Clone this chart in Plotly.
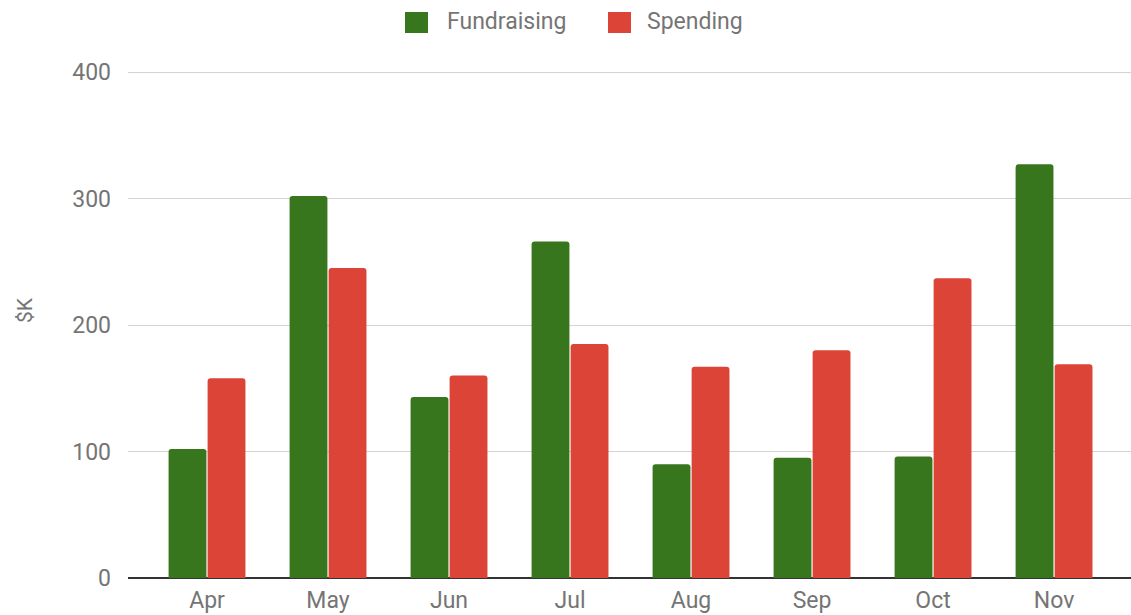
import plotly.graph_objects as go

months = ["Apr", "May", "Jun", "Jul", "Aug", "Sep", "Oct", "Nov"]
fundraising = [102, 302, 143, 266, 90, 95, 96, 327]
spending = [158, 245, 160, 185, 167, 180, 237, 169]
y_ticks = [0, 100, 200, 300, 400]
series_names = ["Fundraising", "Spending"]

GREEN = "#38761d"
RED = "#db4437"
GREY = "#757575"
FONT = "Roboto"
FS = 23

W, H = 1131, 615
ML, MR, MT, MB = 128, 0, 70, 37
PW, PH = W - ML - MR, H - MT - MB
Y_TOP = 400 * PH / 506.0  # so that 400 sits at pixel row 72 with the gridline visible


def px_x(px):
    return (px - ML) / PW


def px_y(py):
    return (H - MB - py) / PH


fig = go.Figure()
fig.add_trace(go.Bar(x=months, y=fundraising, name=series_names[0],
                     marker=dict(color=GREEN, line=dict(width=0)), showlegend=False))
fig.add_trace(go.Bar(x=months, y=spending, name=series_names[1],
                     marker=dict(color=RED, line=dict(width=0)), showlegend=False))

# custom legend (large square swatches like the reference)
legend_items = [(series_names[0], GREEN, 405, 445), (series_names[1], RED, 608, 645)]
shapes = []
annotations = []
for name, col, sx, tx in legend_items:
    shapes.append(dict(type="rect", xref="paper", yref="paper",
                       x0=px_x(sx), x1=px_x(sx + 23), y0=px_y(33), y1=px_y(12),
                       fillcolor=col, line=dict(width=0), layer="above"))
    annotations.append(dict(text=name, xref="paper", yref="paper", x=px_x(tx), y=px_y(22),
                            xanchor="left", yanchor="middle", showarrow=False,
                            font=dict(family=FONT, size=FS, color=GREY)))

annotations.append(dict(text="$K", xref="paper", yref="paper", x=px_x(25), y=px_y(310),
                        xanchor="center", yanchor="middle", textangle=-90, showarrow=False,
                        font=dict(family=FONT, size=FS - 2, color=GREY)))

fig.update_layout(
    width=W, height=H,
    margin=dict(l=ML, r=MR, t=MT, b=MB),
    paper_bgcolor="white", plot_bgcolor="white",
    barmode="group", bargap=0.355, bargroupgap=0.03,
    barcornerradius=3,
    font=dict(family=FONT, size=FS, color=GREY),
    showlegend=False,
    shapes=shapes, annotations=annotations,
    xaxis=dict(range=[-0.653, 7.636], showgrid=False, showline=False, ticks="",
               automargin=False, ticklabelstandoff=6,
               tickfont=dict(family=FONT, size=FS, color=GREY), zeroline=False),
    yaxis=dict(range=[0, Y_TOP], tickvals=y_ticks, showgrid=True, gridcolor="#d3d3d3",
               gridwidth=1, zeroline=True, zerolinecolor="#333333", zerolinewidth=1.5,
               ticks="", ticklabelstandoff=16, automargin=False,
               tickfont=dict(family=FONT, size=FS, color=GREY)),
)

fig.write_html("out.html", config={"displayModeBar": False},
               post_script="document.body.style.margin='0';document.body.style.overflow='hidden';")
